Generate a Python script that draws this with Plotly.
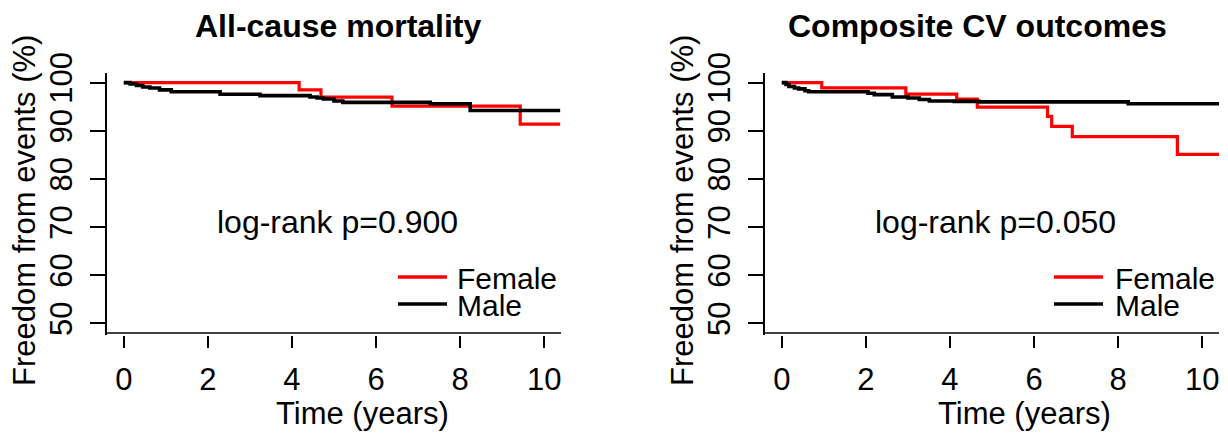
import plotly.graph_objects as go

W, H = 1228, 434
FONT = "Liberation Sans, Arial, sans-serif"

# ---- data ----
panel_titles = ["All-cause mortality", "Composite CV outcomes"]
pvalue_labels = ["log-rank p=0.900", "log-rank p=0.050"]
series_names = ["Female", "Male"]
series_colors = ["#ff0000", "#000000"]

x_ticks = [0, 2, 4, 6, 8, 10]
y_ticks = [50, 60, 70, 80, 90, 100]

mort_female_t = [0, 4.17, 4.69, 6.38, 9.43, 10.38]
mort_female_v = [100, 98.5, 97.0, 95.1, 91.4, 91.4]
mort_male_t = [0, 0.15, 0.3, 0.45, 0.62, 0.85, 1.13, 2.29, 3.24, 4.43, 4.6, 4.75, 5.0, 5.21, 7.29, 8.24, 10.38]
mort_male_v = [100, 99.7, 99.4, 99.1, 98.9, 98.5, 98.1, 97.6, 97.3, 97.0, 96.8, 96.6, 96.2, 95.9, 95.6, 94.2, 94.2]

cv_female_t = [0, 0.95, 2.95, 4.16, 4.65, 6.32, 6.42, 6.91, 9.41, 10.4]
cv_female_v = [100, 98.9, 97.6, 96.6, 94.9, 93.0, 90.9, 88.8, 85.1, 85.1]
cv_male_t = [0, 0.1, 0.17, 0.3, 0.4, 0.55, 0.64, 2.05, 2.2, 2.63, 3.0, 3.27, 3.51, 4.1, 4.7, 8.24, 10.4]
cv_male_v = [100, 99.6, 99.2, 98.9, 98.7, 98.3, 98.1, 97.8, 97.5, 97.0, 96.8, 96.5, 96.2, 96.1, 96.0, 95.6, 95.6]

# ---- layout helpers (pixel -> paper) ----
def px(x):
    return x / W

def py(y):
    return 1 - y / H

X_RANGE = [-0.4, 10.4]
TOP, AXIS_Y, DOM_BOTTOM = 73, 333, 335
pix_per_unit = (AXIS_Y - TOP) / 54.0
Y_RANGE = [48 - (DOM_BOTTOM - AXIS_Y) / pix_per_unit, 102]

panels = [
    dict(x0=107, x1=561, title_x=338, pv_x=337, xlab_x=362, ylab_x=25,
         leg_x0=398, leg_x1=447, leg_tx=455,
         data=[(mort_female_t, mort_female_v), (mort_male_t, mort_male_v)]),
    dict(x0=765, x1=1219, title_x=977, pv_x=995, xlab_x=1024, ylab_x=683,
         leg_x0=1054, leg_x1=1103, leg_tx=1113,
         data=[(cv_female_t, cv_female_v), (cv_male_t, cv_male_v)]),
]

fig = go.Figure()
annotations = []
shapes = []
layout = dict(
    width=W, height=H, margin=dict(l=0, r=0, t=0, b=0, pad=0, autoexpand=False),
    paper_bgcolor="white", plot_bgcolor="white", showlegend=False,
    font=dict(family=FONT, size=31, color="black"),
)

for i, p in enumerate(panels):
    sfx = "" if i == 0 else str(i + 1)
    xref, yref = "x" + sfx, "y" + sfx
    for (t, v), name, col in zip(p["data"], series_names, series_colors):
        fig.add_trace(go.Scatter(
            x=t, y=v, mode="lines", name=name, line_shape="hv",
            line=dict(color=col, width=3.6 if col == "#000000" else 3.2),
            xaxis=xref, yaxis=yref, hoverinfo="skip"))
    layout["xaxis" + sfx] = dict(
        domain=[px(p["x0"]), px(p["x1"])], range=X_RANGE, anchor=yref,
        tickvals=x_ticks, ticktext=[str(v) for v in x_ticks],
        ticks="outside", ticklen=12, tickwidth=1.7, tickcolor="black",
        ticklabelstandoff=5,
        showline=False, showgrid=False, zeroline=False, automargin=False,
        tickfont=dict(size=31, family=FONT), fixedrange=True)
    layout["yaxis" + sfx] = dict(
        domain=[py(DOM_BOTTOM), py(TOP)], range=Y_RANGE, anchor=xref,
        tickvals=y_ticks, ticktext=[str(v) for v in y_ticks],
        ticks="outside", ticklen=15, tickwidth=1.7, tickcolor="black",
        ticklabelstandoff=6,
        showline=True, linecolor="black", linewidth=1.7, automargin=False,
        showgrid=False, zeroline=False, tickangle=-90,
        tickfont=dict(size=31, family=FONT), fixedrange=True)
    # bottom box line (L-shaped box)
    shapes.append(dict(type="line", xref="paper", yref="paper",
                       x0=px(p["x0"]), x1=px(p["x1"]), y0=py(AXIS_Y), y1=py(AXIS_Y),
                       line=dict(color="black", width=1.7)))
    # titles
    annotations.append(dict(text="<b>%s</b>" % panel_titles[i], x=px(p["title_x"]), y=py(26),
                            xref="paper", yref="paper", showarrow=False,
                            xanchor="center", yanchor="middle",
                            font=dict(size=32, family=FONT)))
    annotations.append(dict(text=pvalue_labels[i], x=px(p["pv_x"]), y=py(222),
                            xref="paper", yref="paper", showarrow=False,
                            xanchor="center", yanchor="middle",
                            font=dict(size=32, family=FONT)))
    annotations.append(dict(text="Time (years)", x=px(p["xlab_x"]), y=py(413),
                            xref="paper", yref="paper", showarrow=False,
                            xanchor="center", yanchor="middle"))
    annotations.append(dict(text="Freedom from events (%)", x=px(p["ylab_x"]), y=py(211),
                            xref="paper", yref="paper", showarrow=False, textangle=-90,
                            xanchor="center", yanchor="middle"))
    # legend
    for k, (name, col) in enumerate(zip(series_names, series_colors)):
        ly = 277 + 27 * k
        shapes.append(dict(type="line", xref="paper", yref="paper",
                           x0=px(p["leg_x0"]), x1=px(p["leg_x1"]), y0=py(ly), y1=py(ly),
                           line=dict(color=col, width=3.6)))
        annotations.append(dict(text=name, x=px(p["leg_tx"]), y=py(ly + 1),
                                xref="paper", yref="paper", showarrow=False,
                                xanchor="left", yanchor="middle",
                                font=dict(size=30, family=FONT)))

layout["annotations"] = annotations
layout["shapes"] = shapes
fig.update_layout(**layout)
fig.write_html("out.html", config={"displayModeBar": False},
               post_script="document.body.style.margin='0';document.body.style.overflow='hidden';")
